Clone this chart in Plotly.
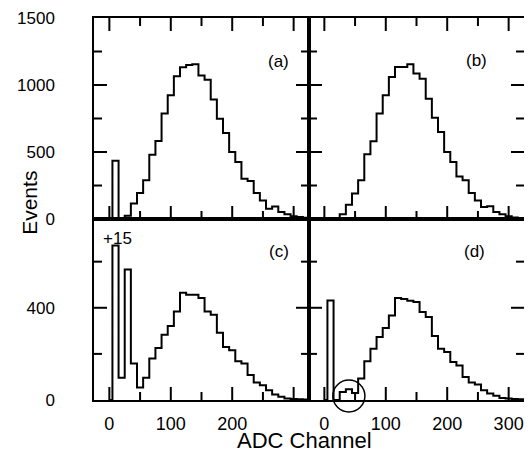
import plotly.graph_objects as go

# ADC bin centres (bin width 10 channels)
adc_channel = [10, 20, 30, 40, 50, 60, 70, 80, 90, 100, 110, 120, 130, 140, 150, 160,
               170, 180, 190, 200, 210, 220, 230, 240, 250, 260, 270, 280, 290, 300, 310, 320]

events_a = [435, 0, 25, 115, 194, 289, 480, 582, 787, 923, 1065, 1132, 1150, 1154, 1070, 1040,
            891, 749, 642, 500, 425, 301, 284, 194, 139, 77, 94, 52, 35, 20, 15, 10]
events_b = [0, 0, 35, 107, 190, 289, 483, 581, 788, 923, 1060, 1135, 1135, 1154, 1085, 1047,
            898, 756, 649, 500, 425, 318, 289, 194, 139, 90, 95, 52, 35, 20, 12, 8]
events_c = [670, 96, 566, 158, 54, 97, 180, 226, 283, 321, 384, 465, 456, 456, 442, 384,
            370, 292, 230, 216, 168, 158, 108, 76, 64, 42, 24, 14, 7, 4, 3, 2]
events_d = [432, 0, 35, 47, 30, 93, 168, 222, 273, 312, 366, 442, 438, 430, 425, 382,
            360, 278, 222, 208, 165, 150, 100, 76, 67, 42, 28, 18, 9, 6, 4, 3]

panel_labels = ["(a)", "(b)", "(c)", "(d)"]
x_ticks_left = [0, 100, 200]
x_ticks_right = [0, 100, 200, 300]
x_major_marks = [0, 100, 200, 300]
x_minor = [50, 150, 250]
y_ticks_top = [0, 500, 1000, 1500]
y_minor_top = [250, 750, 1250]
y_ticks_bot = [0, 400]
y_minor_bot = [200, 600]

FONT = "Liberation Sans, Arial, Helvetica, sans-serif"
W, H = 524, 452
ML, MR, MT, MB = 86, 8, 10, 60
x_range = [-25, 325]
y_range_top = [0, 1500]
y_range_bot = [0, 785]
split = 0.4738
MAJOR_LEN, MINOR_LEN = 13, 8

fig = go.Figure()

series = [(events_a, "x", "y"), (events_b, "x2", "y2"),
          (events_c, "x3", "y3"), (events_d, "x4", "y4")]
for vals, xa, ya in series:
    xs = [0] + adc_channel + [330]
    ys = [0] + vals + [0]
    fig.add_trace(go.Scatter(x=xs, y=ys, mode="lines", xaxis=xa, yaxis=ya,
                             line=dict(shape="hvh", color="black", width=2),
                             showlegend=False, hoverinfo="skip"))

# inside tick marks drawn as line segments on each panel's own axes
plot_w = W - ML - MR
plot_h = H - MT - MB
panel_w = plot_w * 0.5
panels = [("x", "y", y_range_top, y_ticks_top, y_minor_top, True, plot_h * (1 - split)),
          ("x2", "y2", y_range_top, y_ticks_top, y_minor_top, True, plot_h * (1 - split)),
          ("x3", "y3", y_range_bot, y_ticks_bot, y_minor_bot, False, plot_h * split),
          ("x4", "y4", y_range_bot, y_ticks_bot, y_minor_bot, False, plot_h * split)]
for xa, ya, yr, ymaj, ymin, top_ticks, panel_h in panels:
    y_per_px = (yr[1] - yr[0]) / panel_h
    x_per_px = (x_range[1] - x_range[0]) / panel_w
    tx, ty = [], []
    xmarks = [(v, MAJOR_LEN) for v in x_major_marks] + [(v, MINOR_LEN) for v in x_minor]
    for v, L in xmarks:
        tx += [v, v, None]
        ty += [yr[0], yr[0] + L * y_per_px, None]
        if top_ticks:
            tx += [v, v, None]
            ty += [yr[1], yr[1] - L * y_per_px, None]
    ymarks = [(v, MAJOR_LEN) for v in ymaj if yr[0] < v < yr[1]] + [(v, MINOR_LEN) for v in ymin]
    for v, L in ymarks:
        tx += [x_range[0], x_range[0] + L * x_per_px, None]
        ty += [v, v, None]
        tx += [x_range[1], x_range[1] - L * x_per_px, None]
        ty += [v, v, None]
    fig.add_trace(go.Scatter(x=tx, y=ty, mode="lines", xaxis=xa, yaxis=ya,
                             line=dict(color="black", width=2), connectgaps=False,
                             showlegend=False, hoverinfo="skip"))

def xax(domain, ticks, anchor, labels):
    return dict(domain=domain, range=x_range, anchor=anchor, tickmode="array", automargin=False,
                tickvals=ticks, ticks="", showticklabels=labels,
                showline=True, linecolor="black", linewidth=1.5,
                mirror=True, showgrid=False, zeroline=False,
                tickfont=dict(family=FONT, size=18, color="black"),
                ticklabelstandoff=7)

def yax(domain, rng, ticks, anchor, labels):
    return dict(domain=domain, range=rng, anchor=anchor, tickmode="array", automargin=False,
                tickvals=ticks, ticks="", showticklabels=labels,
                showline=True, linecolor="black", linewidth=1.5,
                mirror=True, showgrid=False, zeroline=False,
                tickfont=dict(family=FONT, size=17, color="black"),
                ticklabelstandoff=34)

fig.update_layout(
    width=W, height=H,
    margin=dict(l=ML, r=MR, t=MT, b=MB, autoexpand=False),
    paper_bgcolor="white", plot_bgcolor="white",
    font=dict(family=FONT, color="black"),
    xaxis=xax([0, 0.5], x_ticks_left, "y", False),
    xaxis2=xax([0.5, 1], x_ticks_right, "y2", False),
    xaxis3=xax([0, 0.5], x_ticks_left, "y3", True),
    xaxis4=xax([0.5, 1], x_ticks_right, "y4", True),
    yaxis=yax([split, 1], y_range_top, y_ticks_top, "x", True),
    yaxis2=yax([split, 1], y_range_top, y_ticks_top, "x2", False),
    yaxis3=yax([0, split], y_range_bot, y_ticks_bot, "x3", True),
    yaxis4=yax([0, split], y_range_bot, y_ticks_bot, "x4", False),
)

label_pos = [("x domain", "y domain", 0.86, 0.786), ("x2 domain", "y2 domain", 0.78, 0.79),
             ("x3 domain", "y3 domain", 0.86, 0.818), ("x4 domain", "y4 domain", 0.77, 0.818)]
for txt, (xr, yr, px, py) in zip(panel_labels, label_pos):
    fig.add_annotation(text=txt, xref=xr, yref=yr, x=px, y=py, showarrow=False,
                       xanchor="center", yanchor="middle",
                       font=dict(family=FONT, size=17, color="black"))

fig.add_annotation(text="+15", xref="x3 domain", yref="y3 domain", x=0.107, y=0.895,
                   showarrow=False, xanchor="center", yanchor="middle",
                   font=dict(family=FONT, size=17, color="black"))

fig.add_annotation(text="Events", xref="paper", yref="paper", x=-0.149, y=0.516,
                   textangle=-90, showarrow=False, xanchor="center", yanchor="middle",
                   font=dict(family=FONT, size=21, color="black"))
fig.add_annotation(text="ADC Channel", xref="paper", yref="paper", x=0.49, y=-0.107,
                   showarrow=False, xanchor="center", yanchor="middle",
                   font=dict(family=FONT, size=22, color="black"))

fig.add_shape(type="circle", xref="x4 domain", yref="y4 domain",
              x0=0.111, x1=0.26, y0=-0.066, y1=0.110,
              line=dict(color="black", width=1.5))

fig.write_html("out.html")
